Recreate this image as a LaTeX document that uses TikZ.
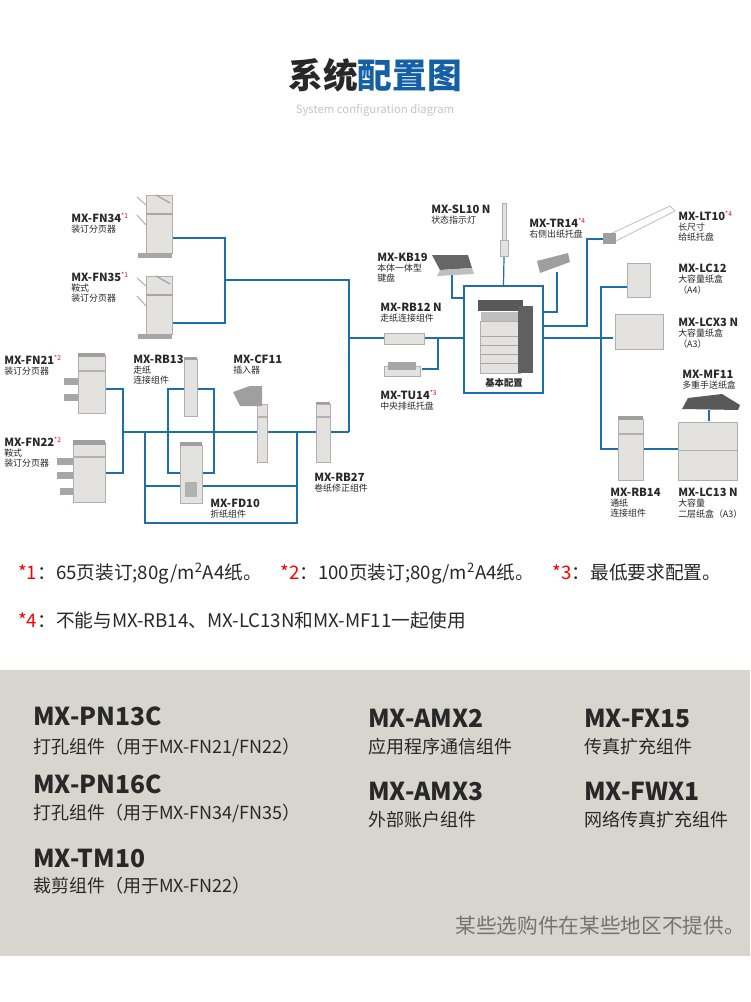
\documentclass[tikz,border=0pt]{standalone}
\usepackage{fontspec}
\setmainfont{Noto Sans CJK SC}
\begin{document}
\begin{tikzpicture}[x=0.75pt,y=-0.75pt,
  ln/.style={draw=lineblue,line width=0.9pt},
  dev/.style={fill=devgray,draw=devedge,line width=0.3pt},
  lab/.style={anchor=north west,inner sep=0pt,align=left,text=labtext,font=\fontsize{6.7}{7.6}\selectfont},
  pn/.style={anchor=north west,inner sep=0pt,text=labtext}]
\definecolor{lineblue}{RGB}{30,110,170}
\definecolor{devgray}{RGB}{228,226,222}
\definecolor{devedge}{RGB}{175,175,175}
\definecolor{labtext}{RGB}{40,40,40}
\definecolor{titleblue}{RGB}{20,95,165}
\definecolor{panel}{RGB}{215,213,206}
\newcommand{\lb}[1]{{\fontsize{8.4}{9}\selectfont\bfseries #1}}
\newcommand{\st}[1]{\textsuperscript{\textcolor{red}{\fontsize{5}{5}\selectfont *#1}}}
\useasboundingbox (0,0) rectangle (750,1002);
\fill[white] (0,0) rectangle (750,1002);
% title
\node (title) at (375,75) {\fontsize{26}{30}\selectfont\bfseries\textcolor{labtext}{系统}\textcolor{titleblue}{配置图}};
\node (sub) at (375,110) {\fontsize{8.5}{9}\selectfont\textcolor{gray!45}{System configuration diagram}};
% ---------- connectors ----------
\coordinate (fn34) at (172,238); \coordinate (fn35) at (172,323);
\draw[ln] (fn34) -| (225,323) -- (fn35);
\draw[ln] (225,280) -| (349,432);
\draw[ln] (349,338) -- (464,338);
\draw[ln] (438,338) |- (422,369);
\draw[ln] (105,389) -| (123,473) -- (105,473);
\draw[ln] (123,432) -- (349,432);
\draw[ln] (168,389) rectangle (214,473);
\draw[ln] (145,432) -- (145,523) -- (297,523) -- (297,432);
\draw[ln] (145,486) -- (297,486);
% base box
\node[draw=lineblue,line width=0.9pt,minimum width=79*0.75pt,minimum height=107*0.75pt,inner sep=0pt] (base) at (503.5,339.5) {};
\draw[ln] (504,257) -- (base.north);
\draw[ln] (452,267) |- (464,298);
\draw[ln] (557,272) |- (543,312);
\draw[ln] (543,326) -| (587,239) -- (603,239);
\draw[ln] (543,338) -- (613,338);
\draw[ln] (627,287) -| (601,449) -- (618,449);
\draw[ln] (643,449) -- (678,449);
\draw[ln] (709,410) -- (709,421);
% ---------- devices ----------
\foreach \y in {195,276}{
  \draw[dev] (146,\y) rectangle (172,\y+58);
  \fill[gray!70] (146,\y+18) rectangle (172,\y+20);
  \fill[gray!70] (138,\y+58) rectangle (172,\y+63);
  \draw[gray!60,line width=0.8pt] (137,\y+2) -- (146,\y+10);
  \draw[gray!60,line width=0.8pt] (137,\y+20) -- (146,\y+30);
  \draw[gray!70,line width=1pt] (156,\y) -- (170,\y+8);}
\draw[dev] (78,355) rectangle (105,413); \fill[gray!75] (78,353) rectangle (105,357);
\fill[gray!60] (78,370) rectangle (105,372);
\fill[gray!70] (64,378) rectangle (78,385); \fill[gray!70] (64,394) rectangle (78,401);
\draw[dev] (73,442) rectangle (105,502); \fill[gray!75] (73,440) rectangle (105,445);
\fill[gray!60] (73,456) rectangle (105,458);
\fill[gray!70] (57,458) rectangle (73,465); \fill[gray!70] (57,472) rectangle (73,479); \fill[gray!70] (60,488) rectangle (73,495);
\draw[dev] (184,359) rectangle (197,416); \fill[gray!75] (184,357) rectangle (197,360);
\draw[dev] (180,445) rectangle (202,503); \fill[gray!75] (180,442) rectangle (202,446);
\fill[gray!60] (185,482) rectangle (197,497);
\draw[dev] (257,404) rectangle (267,462); \fill[gray!60] (257,416) rectangle (267,418);
\fill[gray!75] (233,392) -- (250,386) -- (262,386) -- (262,406) -- (240,406) -- cycle;
\draw[dev] (316,404) rectangle (330,462); \fill[gray!75] (316,402) rectangle (330,404); \fill[gray!60] (316,416) rectangle (330,418);
\draw[dev] (502,203) rectangle (506,240); \draw[dev] (500,240) rectangle (508,256);
\fill[gray!80!black] (432,255) -- (468,255) -- (472,268) -- (440,270) -- cycle;
\fill[gray!50] (440,270) -- (472,268) -- (474,274) -- (437,276) -- cycle;
\fill[gray!75] (537,261) -- (568,253) -- (570,262) -- (540,273) -- cycle;
\draw[gray!50,line width=0.6pt] (606,236) -- (670,206) -- (675,211) -- (612,243);
\fill[gray!75] (603,233) rectangle (616,244);
\node[dev,minimum width=40*0.75pt,minimum height=52*0.75pt,inner sep=0pt] (mfp) at (500,347) {};
\fill[gray!70!black] (478,300) rectangle (523,311);
\fill[gray!75!black] (518,306) rectangle (533,373);
\fill[gray!50] (481,312) rectangle (518,321);
\foreach \yy in {336,345,354,363} \draw[gray!70] (481,\yy) -- (518,\yy);
\draw[dev] (384,333) rectangle (424,344);
\draw[dev] (384,366) rectangle (420,376); \fill[gray!70] (388,362) rectangle (416,370);
\draw[dev] (627,263) rectangle (650,297);
\draw[dev] (615,314) rectangle (663,349);
\fill[gray!70!black] (682,409) -- (688,398) -- (722,394) -- (740,405) -- (738,410) -- cycle;
\draw[dev] (618,419) rectangle (643,480); \fill[gray!75] (618,416) rectangle (643,420); \fill[gray!60] (618,433) rectangle (643,435);
\draw[dev] (678,422) rectangle (737,480); \draw[gray!60] (678,450) -- (737,450);
% ---------- labels ----------
\node[lab] (l1) at (71,213) {\lb{MX-FN34}\st1\\装订分页器};
\node[lab] (l2) at (71,272) {\lb{MX-FN35}\st1\\鞍式\\装订分页器};
\node[lab] (l3) at (4,355) {\lb{MX-FN21}\st2\\装订分页器};
\node[lab] (l4) at (4,437) {\lb{MX-FN22}\st2\\鞍式\\装订分页器};
\node[lab] (l5) at (133,355) {\lb{MX-RB13}\\走纸\\连接组件};
\node[lab] (l6) at (233,355) {\lb{MX-CF11}\\插入器};
\node[lab] (l7) at (210,499) {\lb{MX-FD10}\\折纸组件};
\node[lab] (l8) at (314,473) {\lb{MX-RB27}\\卷纸修正组件};
\node[lab] (l9) at (431,205) {\lb{MX-SL10 N}\\状态指示灯};
\node[lab] (l10) at (377,253) {\lb{MX-KB19}\\本体一体型\\键盘};
\node[lab] (l11) at (529,218) {\lb{MX-TR14}\st4\\右侧出纸托盘};
\node[lab] (l12) at (678,211) {\lb{MX-LT10}\st4\\长尺寸\\给纸托盘};
\node[lab] (l13) at (678,264) {\lb{MX-LC12}\\大容量纸盒\\（A4）};
\node[lab] (l14) at (678,318) {\lb{MX-LCX3 N}\\大容量纸盒\\（A3）};
\node[lab] (l15) at (682,370) {\lb{MX-MF11}\\多重手送纸盒};
\node[lab] (l16) at (380,303) {\lb{MX-RB12 N}\\走纸连接组件};
\node[lab] (l17) at (380,390) {\lb{MX-TU14}\st3\\中央排纸托盘};
\node[lab] (l18) at (610,488) {\lb{MX-RB14}\\通纸\\连接组件};
\node[lab] (l19) at (678,488) {\lb{MX-LC13 N}\\大容量\\二层纸盒（A3）};
\node[inner sep=0pt,text=labtext,font=\fontsize{7}{8}\selectfont\bfseries] (basel) at (504,383) {基本配置};
% ---------- footnotes ----------
\node[pn,font=\fontsize{14}{16}\selectfont] (fn1) at (18,563) {\textcolor{red}{*1}：65页装订;80g/m\textsuperscript{2}A4纸。\quad\textcolor{red}{*2}：100页装订;80g/m\textsuperscript{2}A4纸。\quad\textcolor{red}{*3}：最低要求配置。};
\node[pn,font=\fontsize{14}{16}\selectfont] (fn2) at (18,612) {\textcolor{red}{*4}：不能与MX-RB14、MX-LC13N和MX-MF11一起使用};
% ---------- panel ----------
\fill[panel] (0,670) rectangle (750,956);
\newcommand{\bp}[1]{{\fontsize{18.5}{21}\selectfont\bfseries #1}}
\newcommand{\bs}[1]{{\fontsize{13.5}{15}\selectfont #1}}
\node[pn] (p1) at (33,707) {\bp{MX-PN13C}};
\node[pn] (p1s) at (33,738) {\bs{打孔组件（用于MX-FN21/FN22）}};
\node[pn] (p2) at (33,775) {\bp{MX-PN16C}};
\node[pn] (p2s) at (33,804) {\bs{打孔组件（用于MX-FN34/FN35）}};
\node[pn] (p3) at (33,849) {\bp{MX-TM10}};
\node[pn] (p3s) at (33,877) {\bs{裁剪组件（用于MX-FN22）}};
\node[pn] (p4) at (368,709) {\bp{MX-AMX2}};
\node[pn] (p4s) at (368,738) {\bs{应用程序通信组件}};
\node[pn] (p5) at (368,782) {\bp{MX-AMX3}};
\node[pn] (p5s) at (368,811) {\bs{外部账户组件}};
\node[pn] (p6) at (584,709) {\bp{MX-FX15}};
\node[pn] (p6s) at (584,738) {\bs{传真扩充组件}};
\node[pn] (p7) at (584,782) {\bp{MX-FWX1}};
\node[pn] (p7s) at (584,811) {\bs{网络传真扩充组件}};
\node[anchor=north east,inner sep=0pt,text=gray!90!black,font=\fontsize{15.5}{17}\selectfont] (note) at (745,916) {某些选购件在某些地区不提供。};
\end{tikzpicture}
\end{document}
